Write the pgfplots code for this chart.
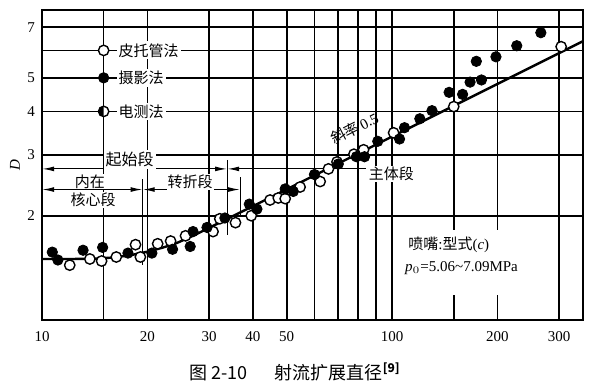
\documentclass[border=0pt]{standalone}
\usepackage{fontspec}
\setmainfont{Liberation Serif}
\newfontfamily\cjk{Noto Sans CJK SC}
\usepackage{pgfplots}
\pgfplotsset{compat=1.18}
\usetikzlibrary{arrows.meta}
\begin{document}
\begin{tikzpicture}
\begin{axis}[name=ax, at={(0,0)}, anchor=south west,
  scale only axis, width=270.5pt, height=155pt,
  xmode=log, ymode=log, xmin=10, xmax=351, ymin=1, ymax=7.85,
  xtick={10,15,20,30,40,50,60,70,80,90,100,150,200,300},
  xticklabels={10,{},20,30,40,50,{},{},{},{},100,{},200,300},
  ytick={2,3,4,5,6,7}, yticklabels={2,3,4,5,{},7},
  minor xtick={}, minor ytick={},
  major tick length=0pt,
  grid=major, major grid style={black, line width=0.8pt},
  axis line style={line width=0.9pt},
  ticklabel style={font=\fontsize{7.5}{8}\selectfont},
  xticklabel style={yshift=-2pt},
  /pgf/number format/assume math mode=true,
  clip=false,
]
% fitted curve
\addplot[black, line width=1.2pt] coordinates {
(10,1.50) (12,1.50) (14,1.502) (16,1.515) (18,1.54) (20,1.575) (22,1.615) (24,1.66) (27,1.75) (30,1.845) (34,1.964) (40,2.13) (351,6.38)};
% 皮托管法 (open)
\addplot[only marks, mark=*, mark size=2.6pt, mark options={fill=white, draw=black, line width=0.7pt}] coordinates {
(12.0,1.44) (13.7,1.50) (14.8,1.48) (16.3,1.52) (18.5,1.65) (19.1,1.52) (21.4,1.66) (23.3,1.69) (25.7,1.75) (30.8,1.80) (32.2,1.96) (35.7,1.91) (39.6,2.00) (44.8,2.22) (47.3,2.25) (49.5,2.24) (54.6,2.42) (62.3,2.51) (65.8,2.73) (69.6,2.86) (77.8,3.01) (82.9,3.10) (101,3.47) (150,4.13) (304,6.15)};
% 摄影法 (filled)
\addplot[only marks, mark=*, mark size=2.6pt, mark options={fill=black, draw=black}] coordinates {
(10.7,1.57) (11.1,1.49) (13.1,1.59) (14.9,1.62) (17.6,1.56) (20.6,1.56) (23.6,1.60) (26.5,1.63) (27.0,1.80) (29.6,1.85) (33.3,1.97) (39.1,2.16) (41.1,2.09) (49.5,2.39) (52.2,2.35) (60.0,2.63) (70.2,2.82) (79.1,2.96) (83.4,2.96) (91,3.28) (105,3.33) (108.5,3.59) (120,3.81) (130,4.02) (145.5,4.54) (159,4.48) (167,4.86) (180,4.93) (174,5.58) (198,5.75) (227,6.19) (266,6.75)};
% legend markers
\addplot[only marks, mark=*, mark size=2.6pt, mark options={fill=white, draw=black, line width=0.7pt}] coordinates {(15,6)};
\addplot[only marks, mark=*, mark size=2.6pt, mark options={fill=black, draw=black}] coordinates {(15,5)};
\addplot[only marks, mark=halfcircle*, mark size=2.6pt, mark options={fill=black, draw=black, line width=0.7pt, rotate=90}] coordinates {(15,4)};
\node[anchor=west, fill=white, inner sep=1pt, font=\cjk\fontsize{7.5}{8}\selectfont] at (axis cs:16.3,6) {皮托管法};
\node[anchor=west, fill=white, inner sep=1pt, font=\cjk\fontsize{7.5}{8}\selectfont] at (axis cs:16.3,5) {摄影法};
\node[anchor=west, fill=white, inner sep=1pt, font=\cjk\fontsize{7.5}{8}\selectfont] at (axis cs:16.3,4) {电测法};
% dimension lines
\draw[line width=0.6pt, {Latex[length=6pt,width=2.4pt]}-{Latex[length=6pt,width=2.4pt]}] (axis cs:10,2.73) -- (axis cs:33.8,2.73);
\draw[line width=0.6pt, {Latex[length=6pt,width=2.4pt]}-] (axis cs:33.8,2.73) -- (axis cs:84,2.73);
\draw[line width=0.6pt] (axis cs:33.8,2.90) -- (axis cs:33.8,1.76);
\draw[line width=0.6pt, {Latex[length=6pt,width=2.4pt]}-{Latex[length=6pt,width=2.4pt]}] (axis cs:10,2.38) -- (axis cs:19.4,2.38);
\draw[line width=0.6pt, {Latex[length=6pt,width=2.4pt]}-{Latex[length=6pt,width=2.4pt]}] (axis cs:19.4,2.38) -- (axis cs:36.8,2.38);
\draw[line width=0.6pt] (axis cs:19.4,2.55) -- (axis cs:19.4,1.445);
\draw[line width=0.6pt] (axis cs:36.8,2.58) -- (axis cs:36.8,1.98);
\node[fill=white, inner sep=1pt, font=\cjk\fontsize{8}{9}\selectfont] at (axis cs:17.8,2.90) {起始段};
\node[fill=white, inner sep=0.5pt, font=\cjk\fontsize{7.5}{8}\selectfont] at (axis cs:13.7,2.51) {内在};
\node[fill=white, inner sep=0.5pt, font=\cjk\fontsize{7.5}{8}\selectfont] at (axis cs:14.0,2.22) {核心段};
\node[fill=white, inner sep=0.5pt, font=\cjk\fontsize{7.5}{8}\selectfont] at (axis cs:26.5,2.51) {转折段};
\node[anchor=west, fill=white, inner sep=0.5pt, font=\cjk\fontsize{7.5}{8}\selectfont] at (axis cs:85,2.64) {主体段};
\node[rotate=27, inner sep=0pt, font=\fontsize{7.5}{8}\selectfont] at (axis cs:78,3.58) {{\cjk 斜率}\,0.5};
% nozzle note
\fill[white] (axis cs:106.8,1.18) rectangle (axis cs:247,1.82);
\node[anchor=west, inner sep=0pt, font=\fontsize{7.5}{8}\selectfont] at (axis cs:111,1.65) {{\cjk 喷嘴}:{\cjk 型式}(\textit{c})};
\node[anchor=west, inner sep=0pt, font=\fontsize{7.5}{8}\selectfont] at (axis cs:108.7,1.416) {\textit{p}$_0$=5.06\textasciitilde7.09MPa};
% y label
\node[rotate=90, font=\fontsize{7.5}{8}\selectfont] at (axis description cs:-0.05,0.5) {\textit{D}};
% caption
\node[font=\cjk\fontsize{9}{10}\selectfont] at (axis description cs:0.468,-0.168) {图 2-10\hspace{1.5em}射流扩展直径\textsuperscript{\textbf{[9]}}};
\end{axis}
\path (-21pt,-33pt) rectangle (279pt,160pt);
\end{tikzpicture}
\end{document}
